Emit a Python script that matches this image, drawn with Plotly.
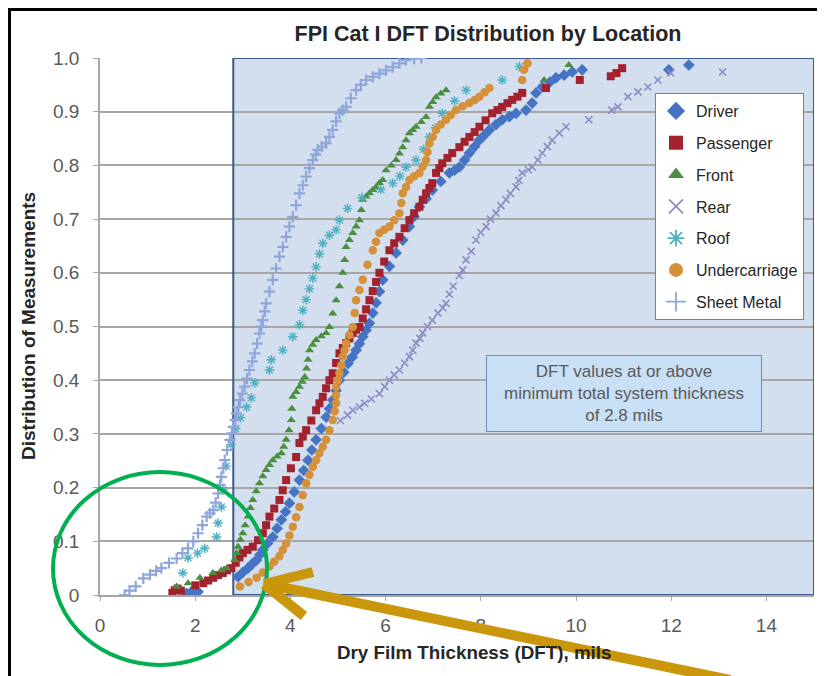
import plotly.graph_objects as go

# ---------------- data ----------------
MIN_THICKNESS = 2.8  # mils

driver_x = [1.82, 1.92, 1.99, 2.06, 2.90, 3.00, 3.11, 3.20, 3.29, 3.36, 3.42, 3.52, 3.63, 3.72, 3.81, 3.90,
            3.98, 4.08, 4.19, 4.28, 4.37, 4.45, 4.54, 4.65, 4.75, 4.82, 4.89, 4.96, 5.03, 5.12, 5.21, 5.30,
            5.38, 5.45, 5.52, 5.59, 5.66, 5.73, 5.80, 5.87, 5.94, 6.08, 6.22, 6.36, 6.50, 6.60, 6.71, 6.85,
            6.98, 7.16, 7.34, 7.45, 7.55, 7.66, 7.76, 7.87, 7.97, 8.08, 8.18, 8.32, 8.45, 8.60, 8.74, 8.95,
            9.08, 9.16, 9.29, 9.45, 9.58, 9.75, 9.92, 10.13, 11.95, 12.37]
driver_y = [0.003, 0.006, 0.009, 0.006, 0.034, 0.042, 0.050, 0.058, 0.065, 0.075, 0.084, 0.096, 0.108, 0.124, 0.140, 0.155,
            0.171, 0.192, 0.214, 0.232, 0.251, 0.270, 0.289, 0.310, 0.331, 0.347, 0.363, 0.381, 0.400, 0.415, 0.431, 0.443,
            0.456, 0.468, 0.481, 0.493, 0.506, 0.525, 0.544, 0.565, 0.587, 0.612, 0.637, 0.661, 0.686, 0.705, 0.723, 0.738,
            0.754, 0.770, 0.786, 0.791, 0.797, 0.810, 0.823, 0.835, 0.847, 0.857, 0.866, 0.876, 0.885, 0.891, 0.897, 0.903,
            0.916, 0.935, 0.946, 0.955, 0.963, 0.968, 0.974, 0.978, 0.978, 0.987]

passenger_x = [1.52, 1.57, 1.63, 1.70, 2.00, 2.17, 2.27, 2.38, 2.48, 2.58, 2.67, 2.76, 2.85, 2.93, 3.00, 3.10,
               3.21, 3.32, 3.42, 3.49, 3.56, 3.66, 3.77, 3.84, 3.91, 4.01, 4.12, 4.19, 4.26, 4.33, 4.44, 4.54,
               4.61, 4.68, 4.75, 4.82, 4.89, 4.96, 5.03, 5.10, 5.17, 5.24, 5.31, 5.38, 5.45, 5.52, 5.59, 5.66,
               5.73, 5.80, 5.87, 5.97, 6.08, 6.18, 6.29, 6.40, 6.50, 6.60, 6.71, 6.78, 6.85, 6.92, 6.98, 7.06,
               7.13, 7.19, 7.30, 7.40, 7.55, 7.66, 7.76, 7.87, 7.97, 8.10, 8.24, 8.35, 8.45, 8.56, 8.66, 8.77,
               8.87, 9.37, 10.08, 10.73, 10.85, 10.97]
passenger_y = [0.004, 0.009, 0.012, 0.008, 0.018, 0.022, 0.027, 0.032, 0.037, 0.041, 0.046, 0.050, 0.060, 0.070, 0.078, 0.084,
               0.090, 0.102, 0.115, 0.130, 0.146, 0.161, 0.177, 0.195, 0.214, 0.236, 0.257, 0.283, 0.295, 0.307, 0.325, 0.344,
               0.357, 0.369, 0.385, 0.400, 0.413, 0.432, 0.450, 0.460, 0.469, 0.478, 0.488, 0.494, 0.499, 0.515, 0.532, 0.549,
               0.566, 0.583, 0.600, 0.621, 0.642, 0.655, 0.667, 0.683, 0.698, 0.711, 0.723, 0.736, 0.748, 0.758, 0.767, 0.786,
               0.795, 0.804, 0.814, 0.823, 0.834, 0.844, 0.853, 0.862, 0.872, 0.884, 0.897, 0.903, 0.909, 0.916, 0.922, 0.928,
               0.935, 0.944, 0.959, 0.966, 0.972, 0.981]

front_x = [1.61, 1.85, 2.10, 2.37, 2.55, 2.66, 2.83, 2.87, 2.90, 2.95, 3.00, 3.05, 3.11, 3.16, 3.21, 3.28,
           3.35, 3.42, 3.49, 3.56, 3.63, 3.72, 3.81, 3.86, 3.91, 3.97, 4.02, 4.03, 4.05, 4.12, 4.19, 4.25,
           4.30, 4.34, 4.37, 4.40, 4.47, 4.54, 4.65, 4.75, 4.82, 4.89, 4.96, 5.03, 5.10, 5.14, 5.17, 5.24,
           5.31, 5.38, 5.45, 5.49, 5.52, 5.59, 5.66, 5.73, 5.80, 5.87, 5.94, 6.01, 6.12, 6.22, 6.29, 6.36,
           6.43, 6.50, 6.57, 6.64, 6.75, 6.85, 6.92, 6.99, 7.06, 7.16, 7.27, 9.33, 9.85]
front_y = [0.016, 0.022, 0.032, 0.041, 0.046, 0.050, 0.065, 0.078, 0.090, 0.103, 0.115, 0.130, 0.146, 0.162, 0.177, 0.193,
           0.208, 0.221, 0.233, 0.242, 0.251, 0.258, 0.264, 0.276, 0.289, 0.307, 0.326, 0.347, 0.369, 0.378, 0.388, 0.397,
           0.406, 0.422, 0.438, 0.456, 0.466, 0.475, 0.482, 0.488, 0.499, 0.524, 0.549, 0.575, 0.600, 0.624, 0.648, 0.661,
           0.674, 0.686, 0.698, 0.717, 0.736, 0.742, 0.748, 0.754, 0.760, 0.767, 0.773, 0.791, 0.800, 0.810, 0.822, 0.834,
           0.847, 0.860, 0.866, 0.872, 0.881, 0.890, 0.909, 0.918, 0.927, 0.934, 0.940, 0.959, 0.987]

rear_x = [5.05, 5.20, 5.31, 5.45, 5.56, 5.70, 5.87, 5.98, 6.08, 6.18, 6.29, 6.40, 6.50, 6.57, 6.64, 6.72,
          6.78, 6.88, 6.98, 7.10, 7.20, 7.27, 7.34, 7.42, 7.55, 7.62, 7.69, 7.80, 7.90, 8.00, 8.11, 8.20,
          8.32, 8.42, 8.53, 8.62, 8.74, 8.80, 8.87, 9.00, 9.08, 9.20, 9.29, 9.40, 9.50, 9.65, 9.79, 10.27,
          10.75, 10.88, 11.09, 11.30, 11.51, 11.72, 11.99, 13.08]
rear_y = [0.325, 0.335, 0.344, 0.350, 0.357, 0.365, 0.375, 0.388, 0.400, 0.410, 0.419, 0.432, 0.444, 0.456, 0.469, 0.478,
          0.488, 0.500, 0.512, 0.525, 0.535, 0.543, 0.560, 0.575, 0.595, 0.605, 0.624, 0.640, 0.661, 0.675, 0.686, 0.700,
          0.711, 0.725, 0.736, 0.748, 0.760, 0.772, 0.786, 0.792, 0.797, 0.810, 0.823, 0.835, 0.847, 0.860, 0.872, 0.885,
          0.903, 0.909, 0.928, 0.937, 0.946, 0.959, 0.972, 0.974]

roof_x = [1.74, 1.85, 2.05, 2.20, 2.45, 2.48, 2.55, 2.58, 2.65, 2.75, 2.85, 2.95, 3.08, 3.18, 3.25, 3.56,
          3.60, 3.84, 4.05, 4.19, 4.26, 4.33, 4.40, 4.47, 4.54, 4.61, 4.68, 4.82, 4.96, 5.03, 5.20, 5.50,
          5.90, 6.15, 6.30, 6.43, 6.64, 6.80, 6.92, 7.05, 7.19, 7.45, 7.69, 8.45, 8.81]
roof_y = [0.041, 0.069, 0.078, 0.087, 0.108, 0.134, 0.164, 0.196, 0.240, 0.280, 0.310, 0.330, 0.350, 0.367, 0.395, 0.419,
          0.438, 0.456, 0.481, 0.503, 0.530, 0.550, 0.570, 0.590, 0.611, 0.635, 0.655, 0.670, 0.680, 0.698, 0.720, 0.740,
          0.755, 0.767, 0.780, 0.797, 0.810, 0.830, 0.853, 0.870, 0.897, 0.920, 0.940, 0.959, 0.984]

under_x = [2.94, 3.12, 3.29, 3.42, 3.56, 3.66, 3.77, 3.84, 3.91, 3.98, 4.05, 4.12, 4.19, 4.26, 4.33, 4.40,
           4.47, 4.54, 4.61, 4.68, 4.75, 4.82, 4.89, 4.93, 4.96, 4.96, 4.96, 5.00, 5.03, 5.07, 5.10, 5.14,
           5.17, 5.24, 5.31, 5.35, 5.38, 5.45, 5.52, 5.62, 5.73, 5.80, 5.87, 5.97, 6.08, 6.18, 6.29, 6.33,
           6.36, 6.43, 6.50, 6.60, 6.71, 6.78, 6.85, 6.88, 6.92, 6.99, 7.06, 7.16, 7.27, 7.37, 7.48, 7.62,
           7.76, 7.87, 7.97, 8.08, 8.18, 8.87, 8.91, 8.98]
under_y = [0.016, 0.024, 0.032, 0.042, 0.053, 0.062, 0.072, 0.084, 0.096, 0.111, 0.127, 0.145, 0.164, 0.186, 0.208, 0.224,
           0.239, 0.251, 0.264, 0.276, 0.289, 0.307, 0.326, 0.342, 0.357, 0.372, 0.388, 0.400, 0.413, 0.428, 0.444, 0.456,
           0.469, 0.484, 0.499, 0.525, 0.549, 0.568, 0.587, 0.615, 0.642, 0.658, 0.674, 0.680, 0.686, 0.698, 0.711, 0.730,
           0.748, 0.760, 0.773, 0.780, 0.786, 0.798, 0.810, 0.825, 0.841, 0.853, 0.866, 0.876, 0.885, 0.894, 0.903, 0.910,
           0.916, 0.922, 0.928, 0.936, 0.944, 0.959, 0.978, 0.990]

sheet_x = [0.52, 0.62, 0.75, 0.91, 1.05, 1.18, 1.29, 1.45, 1.61, 1.73, 1.85, 1.96, 2.06, 2.15, 2.24, 2.31,
           2.38, 2.43, 2.48, 2.52, 2.55, 2.59, 2.62, 2.67, 2.73, 2.77, 2.80, 2.84, 2.87, 2.91, 2.94, 2.99,
           3.04, 3.09, 3.14, 3.20, 3.25, 3.30, 3.35, 3.39, 3.42, 3.46, 3.49, 3.56, 3.63, 3.70, 3.77, 3.84,
           3.91, 3.98, 4.05, 4.12, 4.19, 4.26, 4.33, 4.40, 4.47, 4.53, 4.58, 4.66, 4.75, 4.82, 4.89, 4.96,
           5.03, 5.10, 5.17, 5.27, 5.38, 5.48, 5.59, 5.73, 5.87, 6.01, 6.15, 6.29, 6.43, 6.60, 6.75]
sheet_y = [0.000, 0.008, 0.016, 0.031, 0.038, 0.045, 0.050, 0.060, 0.068, 0.078, 0.087, 0.100, 0.115, 0.130, 0.146, 0.152,
           0.158, 0.172, 0.189, 0.205, 0.220, 0.236, 0.251, 0.270, 0.289, 0.301, 0.313, 0.326, 0.338, 0.350, 0.363, 0.375,
           0.388, 0.403, 0.419, 0.435, 0.450, 0.468, 0.487, 0.500, 0.512, 0.528, 0.543, 0.565, 0.587, 0.608, 0.630, 0.648,
           0.667, 0.686, 0.704, 0.726, 0.748, 0.763, 0.779, 0.795, 0.810, 0.820, 0.829, 0.835, 0.841, 0.853, 0.866, 0.882,
           0.897, 0.903, 0.909, 0.925, 0.940, 0.950, 0.959, 0.965, 0.971, 0.977, 0.983, 0.990, 0.996, 0.999, 1.000]

x_ticks = [0, 2, 4, 6, 8, 10, 12, 14]
y_ticks = [0, 0.1, 0.2, 0.3, 0.4, 0.5, 0.6, 0.7, 0.8, 0.9, 1.0]
y_ticktext = ["0", "0.1", "0.2", "0.3", "0.4", "0.5", "0.6", "0.7", "0.8", "0.9", "1.0"]

# ---------------- styling ----------------
FONT = "Liberation Sans, Arial, sans-serif"
OFF = 8                      # page body margin of the browser
W, H = 825 - OFF, 676 - OFF  # figure size so that it fits the window
# plot area in window pixels: x 100..814, y 58..595
ML, MT = 100 - OFF, 58 - OFF
MR, MB = W - (814 - OFF), H - (595 - OFF)
PW, PH = W - ML - MR, H - MT - MB


def px(xw):
    """window x pixel -> paper x"""
    return (xw - OFF - ML) / PW


def py(yw):
    """window y pixel -> paper y"""
    return (H - MB - (yw - OFF)) / PH


series = [
    ("Driver", driver_x, driver_y, "diamond", "#4674C4", 9, 0),
    ("Passenger", passenger_x, passenger_y, "square", "#A3222E", 8, 0),
    ("Front", front_x, front_y, "triangle-up", "#4A8F3E", 8, 0),
    ("Rear", rear_x, rear_y, "x-thin", "#8C8CC4", 7, 1.6),
    ("Roof", roof_x, roof_y, "asterisk", "#4FB0C0", 8, 1.4),
    ("Undercarriage", under_x, under_y, "circle", "#D4913A", 8.5, 0),
    ("Sheet Metal", sheet_x, sheet_y, "cross-thin", "#8EA6DA", 8, 2.2),
]

fig = go.Figure()
for name, xs, ys, sym, col, size, lw in series:
    fig.add_trace(go.Scatter(
        x=xs, y=ys, mode="markers", name=name, showlegend=False,
        marker=dict(symbol=sym, size=size, color=col, line=dict(width=lw, color=col)),
        hoverinfo="x+y+name"))

for name, xs, ys, sym, col, size, lw in series:
    fig.add_trace(go.Scatter(
        x=[None], y=[None], mode="markers", name=name, legendgroup=name,
        marker=dict(symbol=sym, size=14, color=col,
                    line=dict(width=(1.8 if lw else 0), color=col))))

GOLD = "#C9960C"
shapes = [
    # shaded region at/above minimum thickness
    dict(type="rect", xref="x", yref="y", x0=MIN_THICKNESS, x1=15, y0=0, y1=1,
         fillcolor="#D3DEEF", line=dict(width=0), layer="below"),
    dict(type="rect", xref="x", yref="y", x0=MIN_THICKNESS, x1=15, y0=0, y1=1,
         fillcolor="rgba(0,0,0,0)", line=dict(width=2, color="#3A5A8C"), layer="between"),
    # outer frame (left & top)
    dict(type="path", xref="paper", yref="paper",
         path=f"M {px(9.5)} {py(700)} L {px(9.5)} {py(9.5)} L {px(840)} {py(9.5)}",
         line=dict(color="black", width=3)),
    # green ellipse
    dict(type="circle", xref="paper", yref="paper",
         x0=px(53), x1=px(267), y0=py(665), y1=py(472),
         line=dict(color="#00B050", width=4)),
    # gold arrow
    dict(type="line", xref="paper", yref="paper", x0=px(266), y0=py(584), x1=px(730), y1=py(680),
         line=dict(color=GOLD, width=10)),
    dict(type="line", xref="paper", yref="paper", x0=px(264), y0=py(584), x1=px(313), y1=py(572),
         line=dict(color=GOLD, width=10)),
    dict(type="line", xref="paper", yref="paper", x0=px(264), y0=py(584), x1=px(304), y1=py(616),
         line=dict(color=GOLD, width=10)),
]

annotations = [
    dict(xref="paper", yref="paper", x=px(624), y=py(393), xanchor="center", yanchor="middle",
         showarrow=False,
         text="DFT values at or above<br>minimum total system thickness<br>of 2.8 mils",
         font=dict(family=FONT, size=17, color="#595959"),
         bgcolor="#C9DFF5", bordercolor="#6F8FB8", borderwidth=1, borderpad=1,
         width=272, height=73, align="center"),
    dict(xref="paper", yref="paper", x=px(28), y=py(326), textangle=-90, showarrow=False,
         text="<b>Distribution of Measurements</b>", xanchor="center", yanchor="middle",
         font=dict(family=FONT, size=19, color="#262626")),
    dict(xref="paper", yref="paper", x=px(474), y=py(652), showarrow=False,
         text="<b>Dry Film Thickness (DFT), mils</b>", xanchor="center", yanchor="middle",
         font=dict(family=FONT, size=18.8, color="#262626")),
]

fig.update_layout(
    width=W, height=H,
    margin=dict(l=ML, r=MR, t=MT, b=MB),
    paper_bgcolor="white", plot_bgcolor="white",
    title=dict(text="<b>FPI Cat I DFT Distribution by Location</b>", xref="container",
               x=(488 - OFF) / W, y=1 - (33 - OFF) / H, xanchor="center", yanchor="middle",
               font=dict(family=FONT, size=21.5, color="#262626")),
    xaxis=dict(range=[0, 15], tickvals=x_ticks, showgrid=False, zeroline=False,
               ticks="outside", ticklen=4, tickcolor="#A6A6A6", showline=True,
               linecolor="#A6A6A6", linewidth=1.5, ticklabelstandoff=8,
               tickfont=dict(family=FONT, size=19, color="#595959")),
    yaxis=dict(range=[0, 1], tickvals=y_ticks, ticktext=y_ticktext, showgrid=True,
               gridcolor="#A6A6A6", gridwidth=1.5, zeroline=False,
               ticks="outside", ticklen=5, tickcolor="#A6A6A6", showline=True,
               linecolor="#A6A6A6", linewidth=1.5, ticklabelstandoff=10,
               tickfont=dict(family=FONT, size=19, color="#595959")),
    legend=dict(x=px(655), y=py(93), xanchor="left", yanchor="top",
                bgcolor="white", bordercolor="#7F7F7F", borderwidth=1,
                font=dict(family=FONT, size=16, color="#262626"),
                tracegroupgap=8, itemsizing="trace"),
    shapes=shapes,
    annotations=annotations,
    font=dict(family=FONT),
)

fig.write_html("out.html")
